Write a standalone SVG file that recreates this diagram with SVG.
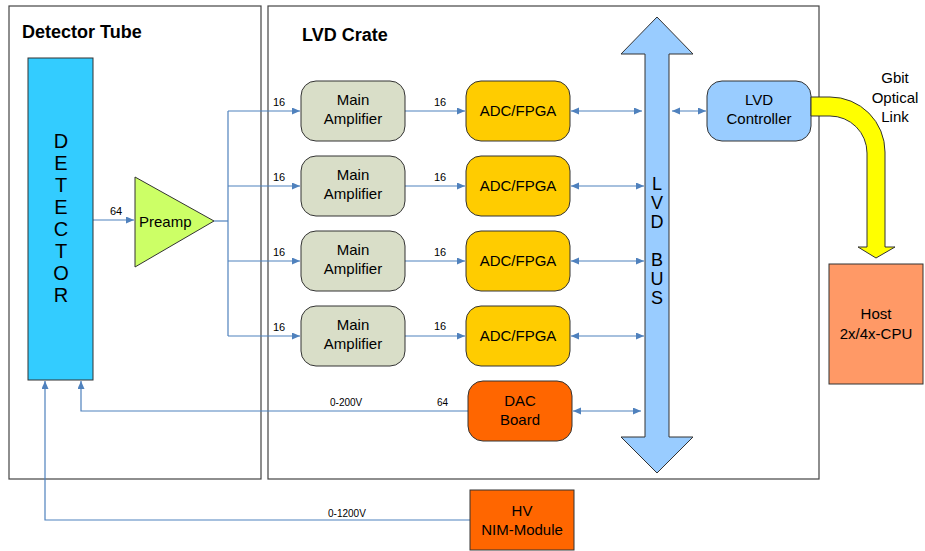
<svg xmlns="http://www.w3.org/2000/svg" width="925" height="551" viewBox="0 0 925 551">
<defs>
<style>
text{font-family:"Liberation Sans",Arial,sans-serif;fill:#000}
.frame{fill:#fff;stroke:#444;stroke-width:1.2}
.title{font-size:18px;font-weight:bold}
.node{stroke:#333;stroke-width:1}
.t15{font-size:15px;text-anchor:middle}
.lbl{font-size:11px}
.lbl10{font-size:10px}
.big{font-size:20px;text-anchor:middle}
.bus{font-size:18px;text-anchor:middle}
.c{fill:none;stroke:#4F81BD;stroke-width:1.2}
.a{marker-end:url(#ah)}
.aa{marker-end:url(#ah);marker-start:url(#ah)}
</style>
<marker id="ah" markerUnits="userSpaceOnUse" markerWidth="9" markerHeight="8" refX="8" refY="3.5" orient="auto-start-reverse">
<path d="M0,0 L8,3.5 L0,7 Z" fill="#4F81BD"/>
</marker>
</defs>
<rect width="925" height="551" fill="#fff"/>
<g id="detector-tube">
<rect class="frame" x="9" y="6" width="252" height="473"/>
<text class="title" x="22" y="38">Detector Tube</text>
</g>
<g id="lvd-crate">
<rect class="frame" x="268" y="6" width="551" height="473"/>
<text class="title" x="302" y="41">LVD Crate</text>
</g>
<g id="connectors">
<line class="c a" x1="93" y1="220" x2="134" y2="220"/>
<text class="lbl" x="110" y="215">64</text>
<polyline class="c" points="214,221 228,221"/>
<line class="c" x1="228" y1="111" x2="228" y2="336"/>
<line class="c a" x1="228" y1="111" x2="300" y2="111"/>
<line class="c a" x1="228" y1="186" x2="300" y2="186"/>
<line class="c a" x1="228" y1="261" x2="300" y2="261"/>
<line class="c a" x1="228" y1="336" x2="300" y2="336"/>
<text class="lbl" x="273" y="106">16</text>
<text class="lbl" x="273" y="181">16</text>
<text class="lbl" x="273" y="256">16</text>
<text class="lbl" x="273" y="331">16</text>
<line class="c a" x1="405" y1="111" x2="465" y2="111"/>
<line class="c a" x1="405" y1="186" x2="465" y2="186"/>
<line class="c a" x1="405" y1="261" x2="465" y2="261"/>
<line class="c a" x1="405" y1="336" x2="465" y2="336"/>
<text class="lbl" x="434" y="106">16</text>
<text class="lbl" x="434" y="181">16</text>
<text class="lbl" x="434" y="256">16</text>
<text class="lbl" x="434" y="330">16</text>
<line class="c aa" x1="571" y1="111" x2="642" y2="111"/>
<line class="c aa" x1="571" y1="186" x2="644" y2="186"/>
<line class="c aa" x1="571" y1="261" x2="644" y2="261"/>
<line class="c aa" x1="571" y1="336" x2="644" y2="336"/>
<line class="c aa" x1="573" y1="411" x2="641" y2="411"/>
<line class="c aa" x1="672" y1="111" x2="706" y2="111"/>
<polyline class="c a" points="468,411 81,411 81,381"/>
<text class="lbl10" x="330" y="406">0-200V</text>
<text class="lbl10" x="437" y="406">64</text>
<polyline class="c a" points="470,520 45,520 45,381"/>
<text class="lbl10" x="328" y="517">0-1200V</text>
</g>
<g id="detector">
<rect class="node" x="28" y="58" width="65" height="322" fill="#33CCFF"/>
<text class="big" x="61" y="148">D</text>
<text class="big" x="61" y="170">E</text>
<text class="big" x="61" y="192">T</text>
<text class="big" x="61" y="214">E</text>
<text class="big" x="61" y="236">C</text>
<text class="big" x="61" y="258">T</text>
<text class="big" x="61" y="280">O</text>
<text class="big" x="61" y="302">R</text>
</g>
<g id="preamp">
<polygon class="node" points="135,177 135,267 214,221" fill="#CCFF66"/>
<text x="139" y="227" style="font-size:15px">Preamp</text>
</g>
<g id="main-amp-1">
<rect class="node" x="301" y="81" width="104" height="60" rx="15" fill="#D9DEC8"/>
<text class="t15" x="353" y="105">Main</text><text class="t15" x="353" y="124">Amplifier</text>
</g>
<g id="main-amp-2">
<rect class="node" x="301" y="156" width="104" height="60" rx="15" fill="#D9DEC8"/>
<text class="t15" x="353" y="180">Main</text><text class="t15" x="353" y="199">Amplifier</text>
</g>
<g id="main-amp-3">
<rect class="node" x="301" y="231" width="104" height="60" rx="15" fill="#D9DEC8"/>
<text class="t15" x="353" y="255">Main</text><text class="t15" x="353" y="274">Amplifier</text>
</g>
<g id="main-amp-4">
<rect class="node" x="301" y="306" width="104" height="60" rx="15" fill="#D9DEC8"/>
<text class="t15" x="353" y="330">Main</text><text class="t15" x="353" y="349">Amplifier</text>
</g>
<g id="adc-1">
<rect class="node" x="466" y="81" width="104" height="60" rx="15" fill="#FFCC00"/>
<text class="t15" x="518" y="116">ADC/FPGA</text>
</g>
<g id="adc-2">
<rect class="node" x="466" y="156" width="104" height="60" rx="15" fill="#FFCC00"/>
<text class="t15" x="518" y="191">ADC/FPGA</text>
</g>
<g id="adc-3">
<rect class="node" x="466" y="231" width="104" height="60" rx="15" fill="#FFCC00"/>
<text class="t15" x="518" y="266">ADC/FPGA</text>
</g>
<g id="adc-4">
<rect class="node" x="466" y="306" width="104" height="60" rx="15" fill="#FFCC00"/>
<text class="t15" x="518" y="341">ADC/FPGA</text>
</g>
<g id="dac-board">
<rect class="node" x="468" y="381" width="104" height="60" rx="15" fill="#FF6600"/>
<text class="t15" x="520" y="406">DAC</text><text class="t15" x="520" y="425">Board</text>
</g>
<g id="lvd-bus">
<polygon class="node" points="657,17 693,54 669,54 669,437 693,437 657,473 621,437 645,437 645,54 621,54" fill="#99CCFF"/>
<text class="bus" x="657" y="190">L</text>
<text class="bus" x="657" y="209">V</text>
<text class="bus" x="657" y="228">D</text>
<text class="bus" x="657" y="266">B</text>
<text class="bus" x="657" y="285">U</text>
<text class="bus" x="657" y="304">S</text>
</g>
<g id="lvd-controller">
<rect class="node" x="707" y="81" width="104" height="60" rx="15" fill="#99CCFF"/>
<text class="t15" x="759" y="105">LVD</text><text class="t15" x="759" y="124">Controller</text>
</g>
<g id="optical-link">
<path class="node" d="M811,97 H830 A55,55 0 0 1 885,152 V247 H895 L876,258 L858,247 H867 V153 A37,37 0 0 0 830,116 H811 Z" fill="#FFFF00"/>
<text class="t15" x="895" y="83">Gbit</text>
<text class="t15" x="895" y="103">Optical</text>
<text class="t15" x="895" y="122">Link</text>
</g>
<g id="host">
<rect class="node" x="829" y="264" width="94" height="120" fill="#FF9966"/>
<text class="t15" x="876" y="319">Host</text><text class="t15" x="876" y="339">2x/4x-CPU</text>
</g>
<g id="hv-nim">
<rect class="node" x="470" y="490" width="104" height="60" fill="#FF6600"/>
<text class="t15" x="522" y="516">HV</text><text class="t15" x="522" y="535">NIM-Module</text>
</g>
</svg>
